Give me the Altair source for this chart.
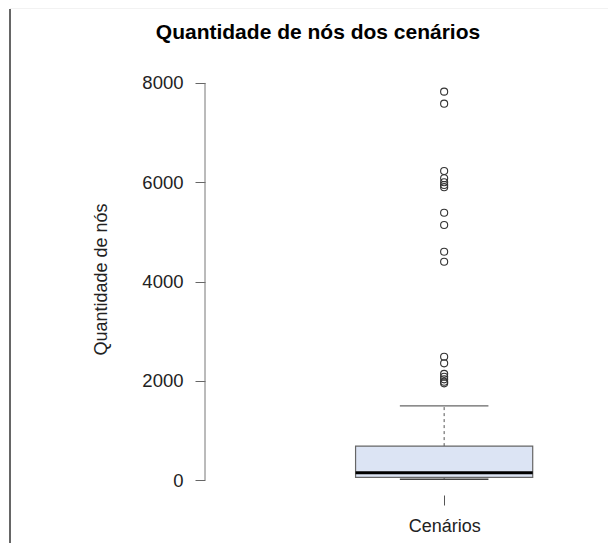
import altair as alt
import pandas as pd

# Summary statistics
box_min = [15]
box_q1 = [54]
box_median = [147]
box_q3 = [685]
box_upper = [1497]
outliers = [7825, 7583, 6227, 6080, 6000, 5945, 5900, 5386, 5139, 4600, 4399,
            2485, 2352, 2140, 2082, 2030, 1981, 1950]
y_ticks = [0, 2000, 4000, 6000, 8000]
category = ["Cenários"]
title_text = ["Quantidade de nós dos cenários"]

FONT = "Liberation Sans"

stats = pd.DataFrame({
    "x": [1.0], "x_lo": [0.8], "x_hi": [1.2], "c_lo": [0.9], "c_hi": [1.1],
    "min": box_min, "q1": box_q1, "median": box_median, "q3": box_q3, "upper": box_upper,
})
out_df = pd.DataFrame({"x": [1.0] * len(outliers), "v": outliers})
axis_df = pd.DataFrame({"a": [y_ticks[0]], "b": [y_ticks[-1]]})
title_df = pd.DataFrame({"t": title_text})

xs = alt.Scale(domain=[0.46, 1.37], nice=False, zero=False)
ys = alt.Scale(domain=[-300, 8140], nice=False, zero=False)

base = alt.Chart(stats)

xaxis = alt.Axis(values=[1], labelExpr="'" + category[0] + "'", tickSize=10, domain=False,
                 grid=False, labelFont=FONT, labelFontSize=18, labelColor="#222",
                 tickColor="#555", labelPadding=12, title=None)
yaxis = alt.Axis(values=y_ticks, format="d", tickSize=10, domain=False, grid=False,
                 labelFont=FONT, labelFontSize=18.5, labelColor="#222", tickColor="#666",
                 labelPadding=12, title="Quantidade de nós", titleFont=FONT, titleFontSize=18,
                 titleFontWeight="normal", titleColor="#222", titleAngle=-90,
                 titleX=-99, titleY=203, titleAlign="center", titleBaseline="alphabetic")

whisker = base.mark_rule(color="#555", strokeDash=[3, 3], strokeWidth=1).encode(
    x=alt.X("x:Q", scale=xs, axis=xaxis),
    y=alt.Y("q3:Q", scale=ys, axis=yaxis),
    y2="upper:Q",
)
whisker_low = base.mark_rule(color="#555", strokeDash=[3, 3], strokeWidth=1).encode(
    x=alt.X("x:Q", scale=xs), y=alt.Y("min:Q", scale=ys), y2="q1:Q")
cap_hi = base.mark_rule(color="#666", strokeWidth=1.2).encode(
    x=alt.X("c_lo:Q", scale=xs), x2="c_hi:Q", y=alt.Y("upper:Q", scale=ys))
cap_lo = base.mark_rule(color="#444", strokeWidth=1.5).encode(
    x=alt.X("c_lo:Q", scale=xs), x2="c_hi:Q", y=alt.Y("min:Q", scale=ys))
box = base.mark_rect(fill="#dce4f4", stroke="#666", strokeWidth=1.2).encode(
    x=alt.X("x_lo:Q", scale=xs), x2="x_hi:Q", y=alt.Y("q1:Q", scale=ys), y2="q3:Q")
med = base.mark_rule(color="#000", strokeWidth=3).encode(
    x=alt.X("x_lo:Q", scale=xs), x2="x_hi:Q", y=alt.Y("median:Q", scale=ys))
pts = alt.Chart(out_df).mark_point(shape="circle", filled=False, size=50, color="#333",
                                   strokeWidth=1.1, opacity=1).encode(
    x=alt.X("x:Q", scale=xs), y=alt.Y("v:Q", scale=ys))
yline = alt.Chart(axis_df).mark_rule(color="#777", strokeWidth=1).encode(
    x=alt.value(0), y=alt.Y("a:Q", scale=ys), y2="b:Q")

title = alt.Chart(title_df).mark_text(font=FONT, fontSize=21, fontWeight="bold", color="#000",
                                      align="center", baseline="alphabetic").encode(
    text="t:N", x=alt.value(113), y=alt.value(-37))

# screenshot border decorations
border_v = alt.Chart(axis_df).mark_rule(color="#333", strokeWidth=1.5).encode(
    x=alt.value(-195), y=alt.value(-67), y2=alt.value(480))
border_h = alt.Chart(axis_df).mark_rule(color="#e6e6e6", strokeWidth=1).encode(
    x=alt.value(-195), x2=alt.value(403), y=alt.value(-68))

chart = alt.layer(whisker, whisker_low, cap_hi, box, cap_lo, med, pts, yline, title,
                  border_v, border_h).properties(
    width=403, height=419,
    autosize=alt.AutoSizeParams(type="none"),
    padding={"left": 197, "top": 68, "right": 0, "bottom": 48},
).configure_view(stroke=None, clip=False)

chart.save("out.html", embed_options={"renderer": "svg", "actions": False})
